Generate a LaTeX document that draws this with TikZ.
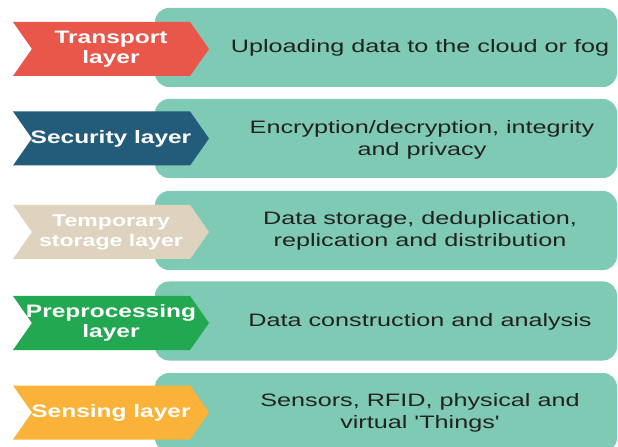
\documentclass[tikz,border=0pt]{standalone}
\usepackage{fontspec}
\setmainfont{Liberation Sans}
\newfontfamily\descfont[FakeStretch=1.4]{Liberation Sans}
\newfontfamily\layerfont[FakeStretch=1.36]{Liberation Sans}
\usetikzlibrary{shapes.symbols}

\definecolor{panelteal}{RGB}{126,202,181}
\definecolor{transportred}{RGB}{233,86,74}
\definecolor{securityblue}{RGB}{35,92,122}
\definecolor{storagebeige}{RGB}{221,211,191}
\definecolor{preprocgreen}{RGB}{34,168,80}
\definecolor{sensingorange}{RGB}{250,178,56}
\definecolor{desctext}{RGB}{34,34,34}

\tikzset{
    layer/.style={signal, signal from=west, signal to=east, signal pointer angle=110,
        minimum width=196bp, minimum height=54bp, inner sep=0pt, text=white, align=center,
        font=\layerfont\bfseries\fontsize{18bp}{20bp}\selectfont},
    panel/.style={rectangle, rounded corners=14bp, fill=panelteal,
        minimum width=462bp, minimum height=79bp, inner sep=0pt},
    desc/.style={align=center, text=desctext, font=\descfont\fontsize{18bp}{22bp}\selectfont}
}

\begin{document}
\begin{tikzpicture}[x=1bp, y=-1bp]

    \useasboundingbox (0,0) rectangle (618,447);

    \node[panel] (panel1) at (386,47.5) {};
    \node[panel] (panel2) at (386,138.5) {};
    \node[panel] (panel3) at (386,230.5) {};
    \node[panel] (panel4) at (386,321) {};
    \node[panel] (panel5) at (386,412.5) {};

    \node[layer, fill=transportred] (transport) at (111,49) {Transport\\layer};
    \node[layer, fill=securityblue] (security) at (111,138.5) {\makebox[120bp]{Security layer}};
    \node[layer, fill=storagebeige, font=\layerfont\bfseries\fontsize{17bp}{20bp}\selectfont] (storage) at (111,232) {Temporary\\storage layer};
    \node[layer, fill=preprocgreen] (preproc) at (111,323) {\makebox[120bp]{Preprocessing}\\layer};
    \node[layer, fill=sensingorange] (sensing) at (111,412.5) {\makebox[120bp]{Sensing layer}};

    \node[desc] (upload) at (420,47.5) {Uploading data to the cloud or fog};
    \node[desc] (crypto) at (422,140) {Encryption/decryption, integrity\\and privacy};
    \node[desc] (store) at (420,231) {Data storage, deduplication,\\replication and distribution};
    \node[desc] (analysis) at (420,322) {Data construction and analysis};
    \node[desc] (sensors) at (420,413) {Sensors, RFID, physical and\\virtual 'Things'};

\end{tikzpicture}
\end{document}
